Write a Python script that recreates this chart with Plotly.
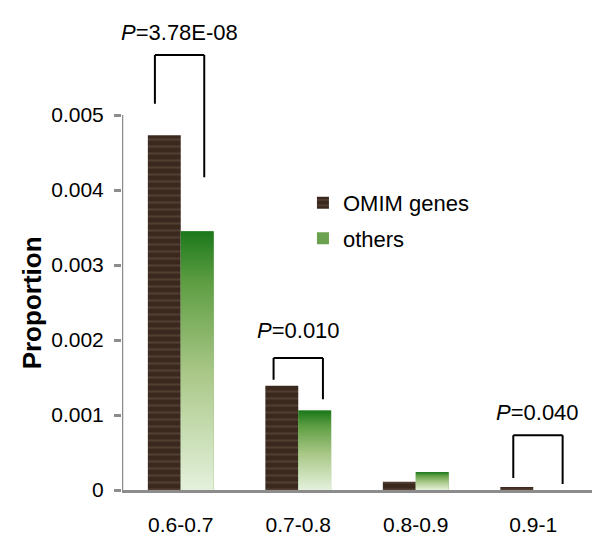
import plotly.graph_objects as go

categories = ["0.6-0.7", "0.7-0.8", "0.8-0.9", "0.9-1"]
omim = [0.00473, 0.00139, 0.00011, 0.00004]
others = [0.00345, 0.00106, 0.00024, 0.0]
y_ticks = [0, 0.001, 0.002, 0.003, 0.004, 0.005]
y_tick_labels = ["0", "0.001", "0.002", "0.003", "0.004", "0.005"]

# significance brackets
p_texts = ["3.78E-08", "0.010", "0.040"]
p_cat = [0, 1, 3]
p_left_bottom = [0.00515, 0.00147, 0.00016]
p_right_bottom = [0.00417, 0.00121, 0.00008]
p_top = [0.0058, 0.00176, 0.00073]
p_text_y = [0.0061, 0.00213, 0.00103]
leg_left_off = [-0.22, -0.21, -0.17]
leg_right_off = [0.2, 0.21, 0.25]

BW = 0.28
FONT = "Arial, Liberation Sans, sans-serif"
xs = list(range(len(categories)))

fig = go.Figure()
fig.add_trace(go.Bar(
    x=xs, y=omim, name="OMIM genes", width=BW, offset=-BW,
    marker=dict(color="#3d2b20", line=dict(width=0),
                pattern=dict(shape="-", fgcolor="#6a5443", bgcolor="#3b291f", size=7, solidity=0.3)),
    legendgroup="a",
))
fig.add_trace(go.Bar(
    x=xs, y=others, name="others", width=BW, offset=0,
    marker=dict(color="#6aa24f", line=dict(width=0)),
    legendgroup="b",
))
green_scale = [[0, "#e4f1dc"], [0.45, "#aac888"], [0.8, "#5f9e43"], [1, "#1b781b"]]
for i, v in enumerate(others):
    if v <= 0:
        continue
    fig.add_trace(go.Scatter(
        x=[i, i + BW, i + BW, i, i], y=[0, 0, v, v, 0], mode="lines",
        line=dict(width=0), fill="toself",
        fillgradient=dict(type="vertical", colorscale=green_scale),
        showlegend=False, hoverinfo="skip",
    ))

for k in range(len(p_texts)):
    c = p_cat[k]
    xl = c + leg_left_off[k]
    xr = c + leg_right_off[k]
    for (x0, y0, x1, y1) in [(xl, p_left_bottom[k], xl, p_top[k]),
                             (xl, p_top[k], xr, p_top[k]),
                             (xr, p_top[k], xr, p_right_bottom[k])]:
        fig.add_shape(type="line", x0=x0, y0=y0, x1=x1, y1=y1, xref="x", yref="y",
                      line=dict(color="black", width=2))
    fig.add_annotation(x=(xl + xr) / 2, y=p_text_y[k], xref="x", yref="y",
                       text="<i>P</i>=" + p_texts[k], showarrow=False,
                       font=dict(size=22, color="black", family=FONT))

# y axis line only over tick range
fig.add_shape(type="line", x0=-0.5, x1=-0.5, y0=0, y1=y_ticks[-1], xref="x", yref="y",
              line=dict(color="#8c8c8c", width=2.5))

fig.add_annotation(x=-0.228, y=0.0025, xref="paper", yref="y", text="<b>Proportion</b>",
                   textangle=-90, showarrow=False, font=dict(size=26, color="black", family=FONT))

fig.update_layout(
    width=600, height=552,
    margin=dict(l=122, r=8, t=10, b=62),
    paper_bgcolor="white", plot_bgcolor="white",
    font=dict(family=FONT, color="black", size=21),
    showlegend=True,
    legend=dict(x=0.385, y=0.642, xanchor="left", yanchor="top", font=dict(size=22),
                bgcolor="rgba(0,0,0,0)", traceorder="grouped", tracegroupgap=4,
                itemwidth=30),
    barmode="overlay",
    xaxis=dict(range=[-0.5, 3.5], tickvals=xs, ticktext=categories, showline=True,
               linecolor="#8c8c8c", linewidth=2.5, ticks="", showgrid=False, zeroline=False,
               tickfont=dict(size=21), ticklabelstandoff=14, automargin=False),
    yaxis=dict(range=[0, 0.0064], tickvals=y_ticks, ticktext=y_tick_labels, showline=False,
               ticks="outside", ticklen=7, tickwidth=2.5, tickcolor="#8c8c8c", showgrid=False,
               zeroline=False, tickfont=dict(size=21), ticklabelstandoff=6, automargin=False),
)

fig.write_html("out.html", config={"displayModeBar": False},
               post_script="document.body.style.margin='0';")
